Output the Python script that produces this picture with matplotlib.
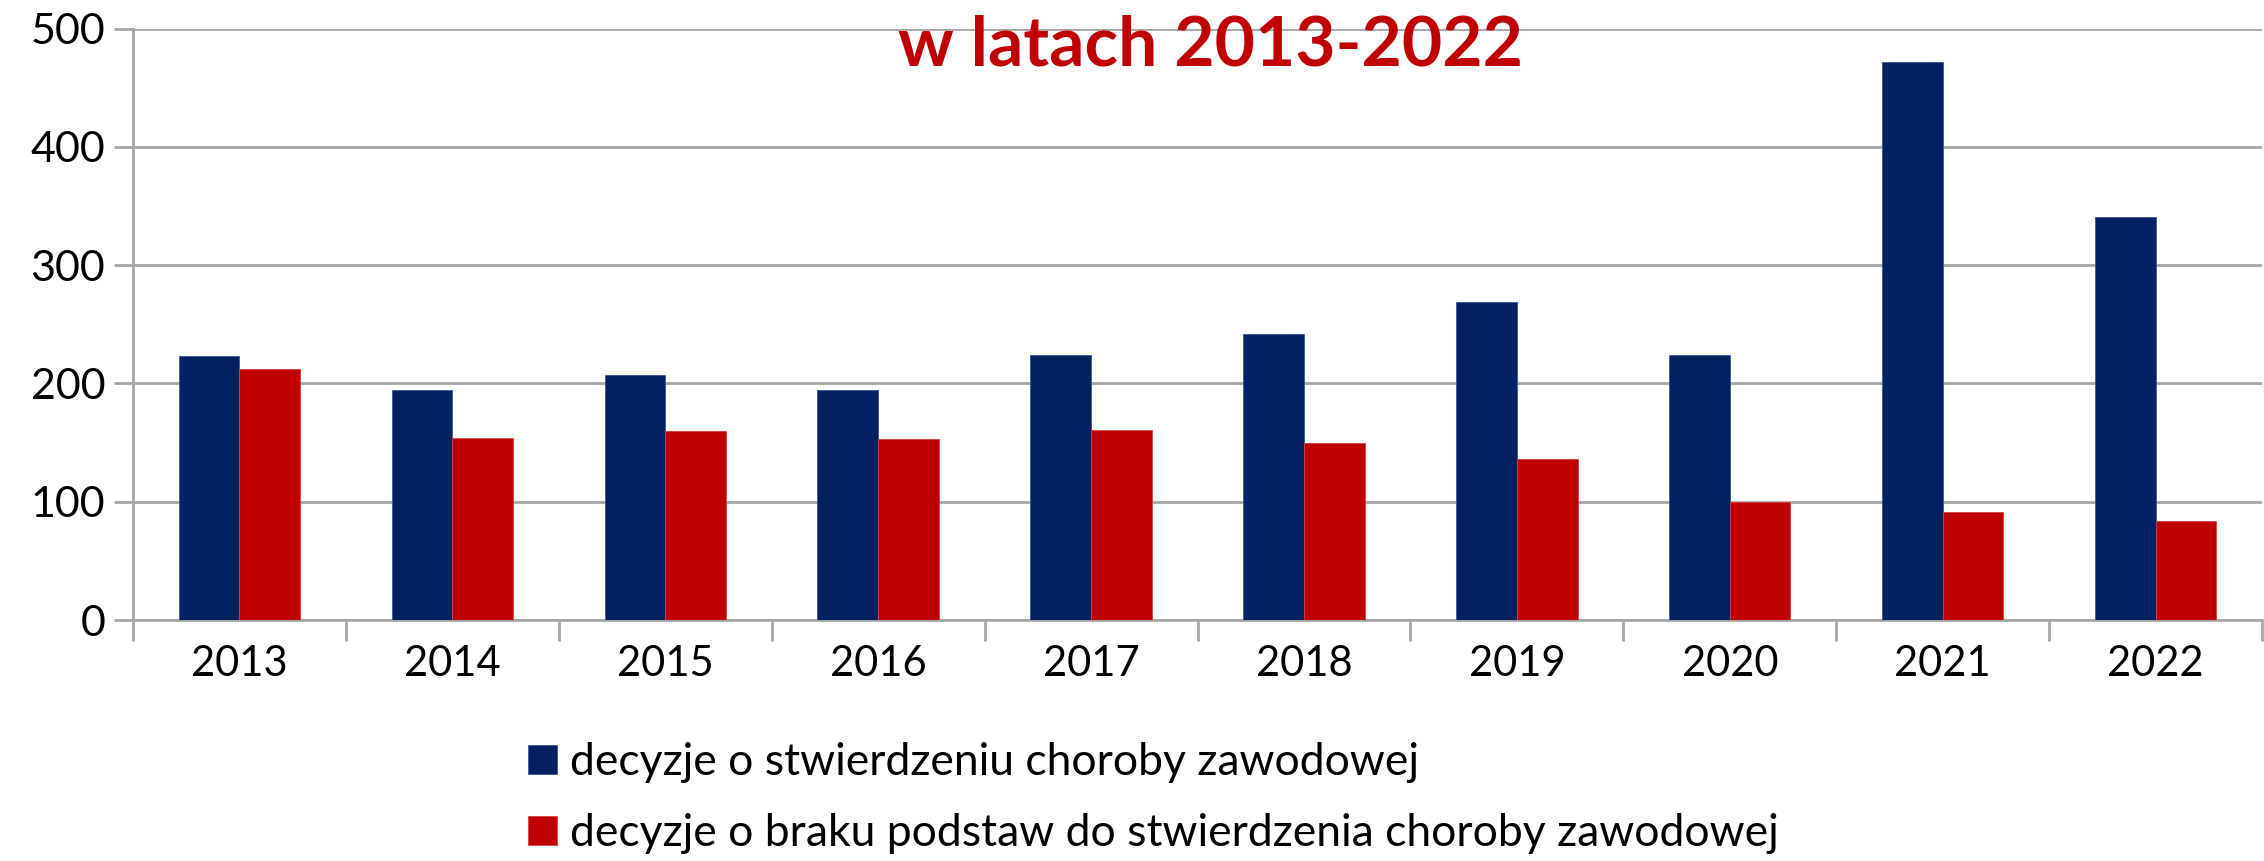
import matplotlib
matplotlib.use("Agg")
import matplotlib.pyplot as plt
import numpy as np

years = ["2013", "2014", "2015", "2016", "2017", "2018", "2019", "2020", "2021", "2022"]
stwierdzenie = [223, 194, 207, 194, 224, 242, 269, 224, 472, 341]
brak_podstaw = [212, 154, 160, 153, 161, 150, 136, 100, 91, 84]
series_labels = ["decyzje o stwierdzeniu choroby zawodowej",
                 "decyzje o braku podstaw do stwierdzenia choroby zawodowej"]
title_text = "w latach 2013-2022"

BLUE = "#002060"
RED = "#C00000"
GRAY = "#a6a6a6"

plt.rcParams['font.family'] = ['Lato', 'DejaVu Sans']

W, H = 2264, 861
fig = plt.figure(figsize=(W / 100, H / 100), dpi=100)
left, right, top, bottom = 133, 2262, 28.5, 620
ax = fig.add_axes([left / W, 1 - bottom / H, (right - left) / W, (bottom - top) / H])

x = np.arange(len(years))
bw = 0.285
ax.bar(x - bw / 2, stwierdzenie, width=bw, color=BLUE, edgecolor="#3a5a9a", linewidth=0.6,
       label=series_labels[0], zorder=3)
ax.bar(x + bw / 2, brak_podstaw, width=bw, color=RED, edgecolor="#d04040", linewidth=0.6,
       label=series_labels[1], zorder=3)

ax.set_xlim(-0.5, len(years) - 0.5)
ax.set_ylim(0, 500)
ax.set_yticks(range(0, 501, 100))
ax.yaxis.grid(True, color=GRAY, linewidth=2, zorder=0)
ax.set_axisbelow(True)

for s in ["top", "right"]:
    ax.spines[s].set_visible(False)
for s in ["left", "bottom"]:
    ax.spines[s].set_color(GRAY)
    ax.spines[s].set_linewidth(2)

ax.set_xticks(np.arange(-0.5, len(years), 1.0))
ax.set_xticklabels([])
ax.set_xticks(x, minor=True)
ax.set_xticklabels(years, minor=True, fontsize=30)
ax.tick_params(axis="x", which="major", length=15, width=2, color=GRAY, direction="out")
ax.tick_params(axis="x", which="minor", length=0, pad=18)
ax.tick_params(axis="y", length=14, width=2, color=GRAY, labelsize=31, pad=6)

fig.text(1211 / W, 1 - 65 / H, title_text, color=RED, fontsize=50, fontweight="bold",
         ha="center", va="baseline")

leg = ax.legend(loc="upper left", bbox_to_anchor=(528 / W, 1 - 742 / H),
                bbox_transform=fig.transFigure, frameon=False, fontsize=32,
                handlelength=0.65, handleheight=0.65, handletextpad=0.3,
                labelspacing=0.68, borderpad=0, borderaxespad=0)

fig.savefig("out.png", dpi=100)
